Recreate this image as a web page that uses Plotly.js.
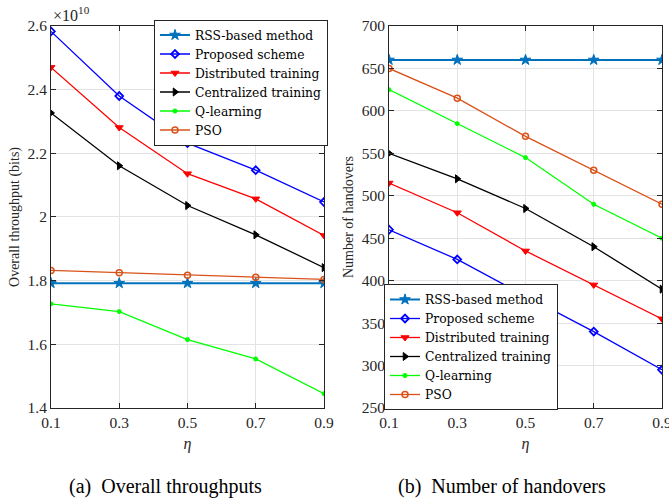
<!DOCTYPE html>
<html>
<head>
<meta charset="utf-8">
<script src="https://cdn.plot.ly/plotly-3.0.1.min.js"></script>
<style>html,body{margin:0;padding:0;background:#fff;}#chart{width:669px;height:499px;}</style>
</head>
<body>
<div id="chart"></div>
<script>
// ---- data ----
const eta = [0.1, 0.3, 0.5, 0.7, 0.9];
const seriesNames = ["RSS-based method", "Proposed scheme", "Distributed training", "Centralized training", "Q-learning", "PSO"];

// Overall throughput (x 1e10 bits)
const thrRSS = [1.792, 1.792, 1.792, 1.792, 1.792];
const thrProposed = [2.583, 2.380, 2.232, 2.147, 2.047];
const thrDistributed = [2.470, 2.281, 2.136, 2.057, 1.942];
const thrCentralized = [2.327, 2.161, 2.036, 1.944, 1.841];
const thrQ = [1.727, 1.703, 1.615, 1.554, 1.445];
const thrPSO = [1.832, 1.825, 1.817, 1.811, 1.804];

// Number of handovers
const hoRSS = [660, 660, 660, 660, 660];
const hoProposed = [460, 425, 382, 340, 295];
const hoDistributed = [515, 480, 435, 395, 355];
const hoCentralized = [550, 520, 485, 440, 390];
const hoQ = [625, 585, 545, 490, 450];
const hoPSO = [650, 615, 570, 530, 490];

const xTickVals = [0.1, 0.3, 0.5, 0.7, 0.9];
const xTickText = ["0.1", "0.3", "0.5", "0.7", "0.9"];
const yThrTickVals = [1.4, 1.6, 1.8, 2.0, 2.2, 2.4, 2.6];
const yThrTickText = ["1.4", "1.6", "1.8", "2", "2.2", "2.4", "2.6"];
const yHoTickVals = [250, 300, 350, 400, 450, 500, 550, 600, 650, 700];

// ---- styles ----
const styles = [
  {color: "#0072BD", width: 2, symbol: "star", size: 8},
  {color: "#0000FF", width: 1.3, symbol: "diamond-open", size: 6, mlw: 1.8},
  {color: "#FF0000", width: 1.3, symbol: "triangle-down", size: 7},
  {color: "#000000", width: 1.3, symbol: "triangle-right", size: 7},
  {color: "#00FF00", width: 1.3, symbol: "asterisk-open", size: 4, mlw: 1.5},
  {color: "#D95319", width: 1.3, symbol: "circle-open", size: 6, mlw: 1.5}
];

const thrData = [thrRSS, thrProposed, thrDistributed, thrCentralized, thrQ, thrPSO];
const hoData = [hoRSS, hoProposed, hoDistributed, hoCentralized, hoQ, hoPSO];

const traces = [];
function addTraces(dataArr, xa, ya, leg) {
  dataArr.forEach((ys, i) => {
    const s = styles[i];
    traces.push({
      x: eta, y: ys, xaxis: xa, yaxis: ya, legend: leg,
      type: "scatter", mode: "lines+markers", name: seriesNames[i],
      line: {color: s.color, width: s.width},
      marker: {symbol: s.symbol, size: s.size, color: s.color, line: {color: s.color, width: s.mlw || 1}}
    });
  });
}
addTraces(thrData, "x", "y", "legend");
addTraces(hoData, "x2", "y2", "legend2");

const fontFam = "Liberation Serif";
const axisCommon = {
  showline: true, mirror: "ticks", linecolor: "#262626", linewidth: 1,
  ticks: "inside", ticklen: 5, tickcolor: "#262626",
  showgrid: true, gridcolor: "#e3e3e3", gridwidth: 1, zeroline: false,
  ticklabeloverflow: "allow",
  tickfont: {family: fontFam, size: 15.5, color: "#262626"}
};

const legendCommon = {
  font: {family: "DejaVu Serif", size: 12.3, color: "#000"},
  bgcolor: "#fff", bordercolor: "#262626", borderwidth: 1,
  xanchor: "center", yanchor: "middle", tracegroupgap: 0, itemwidth: 30
};

const layout = {
  width: 669, height: 499,
  margin: {l: 0, r: 0, t: 0, b: 0},
  paper_bgcolor: "#fff", plot_bgcolor: "#fff",
  showlegend: true,
  xaxis: Object.assign({}, axisCommon, {
    domain: [0.0762, 0.4843], anchor: "y", range: [0.1, 0.9],
    tickvals: xTickVals, ticktext: xTickText,
    title: {text: "<i>η</i>", font: {family: fontFam, size: 16, color: "#262626"}, standoff: 8}
  }),
  yaxis: Object.assign({}, axisCommon, {
    domain: [0.1824, 0.9479], anchor: "x", range: [1.4, 2.6],
    tickvals: yThrTickVals, ticktext: yThrTickText,
    title: {text: "Overall throughput (bits)", font: {family: fontFam, size: 14, color: "#262626"}, standoff: 4}
  }),
  xaxis2: Object.assign({}, axisCommon, {
    domain: [0.5815, 0.9895], anchor: "y2", range: [0.1, 0.9],
    tickvals: xTickVals, ticktext: xTickText,
    title: {text: "<i>η</i>", font: {family: fontFam, size: 16, color: "#262626"}, standoff: 8}
  }),
  yaxis2: Object.assign({}, axisCommon, {
    domain: [0.1824, 0.9479], anchor: "x2", range: [250, 700],
    tickvals: yHoTickVals,
    title: {text: "Number of handovers", font: {family: fontFam, size: 14, color: "#262626"}, standoff: 4}
  }),
  legend: Object.assign({}, legendCommon, {x: 241 / 669, y: 1 - 82.5 / 499}),
  legend2: Object.assign({}, legendCommon, {x: 471 / 669, y: 1 - 347 / 499}),
  annotations: [
    {text: "×10<sup>10</sup>", xref: "paper", yref: "paper", x: 51 / 669, y: 1 - 26 / 499, xanchor: "left", yanchor: "bottom",
     showarrow: false, font: {family: fontFam, size: 16, color: "#262626"}},
    {text: "(a)  Overall throughputs", xref: "paper", yref: "paper", x: 165 / 669, y: 1 - 486 / 499, xanchor: "center", yanchor: "middle",
     showarrow: false, font: {family: fontFam, size: 20, color: "#000"}},
    {text: "(b)  Number of handovers", xref: "paper", yref: "paper", x: 502 / 669, y: 1 - 486 / 499, xanchor: "center", yanchor: "middle",
     showarrow: false, font: {family: fontFam, size: 20, color: "#000"}}
  ]
};

Plotly.newPlot("chart", traces, layout, {displayModeBar: false, staticPlot: true});
</script>
</body>
</html>
